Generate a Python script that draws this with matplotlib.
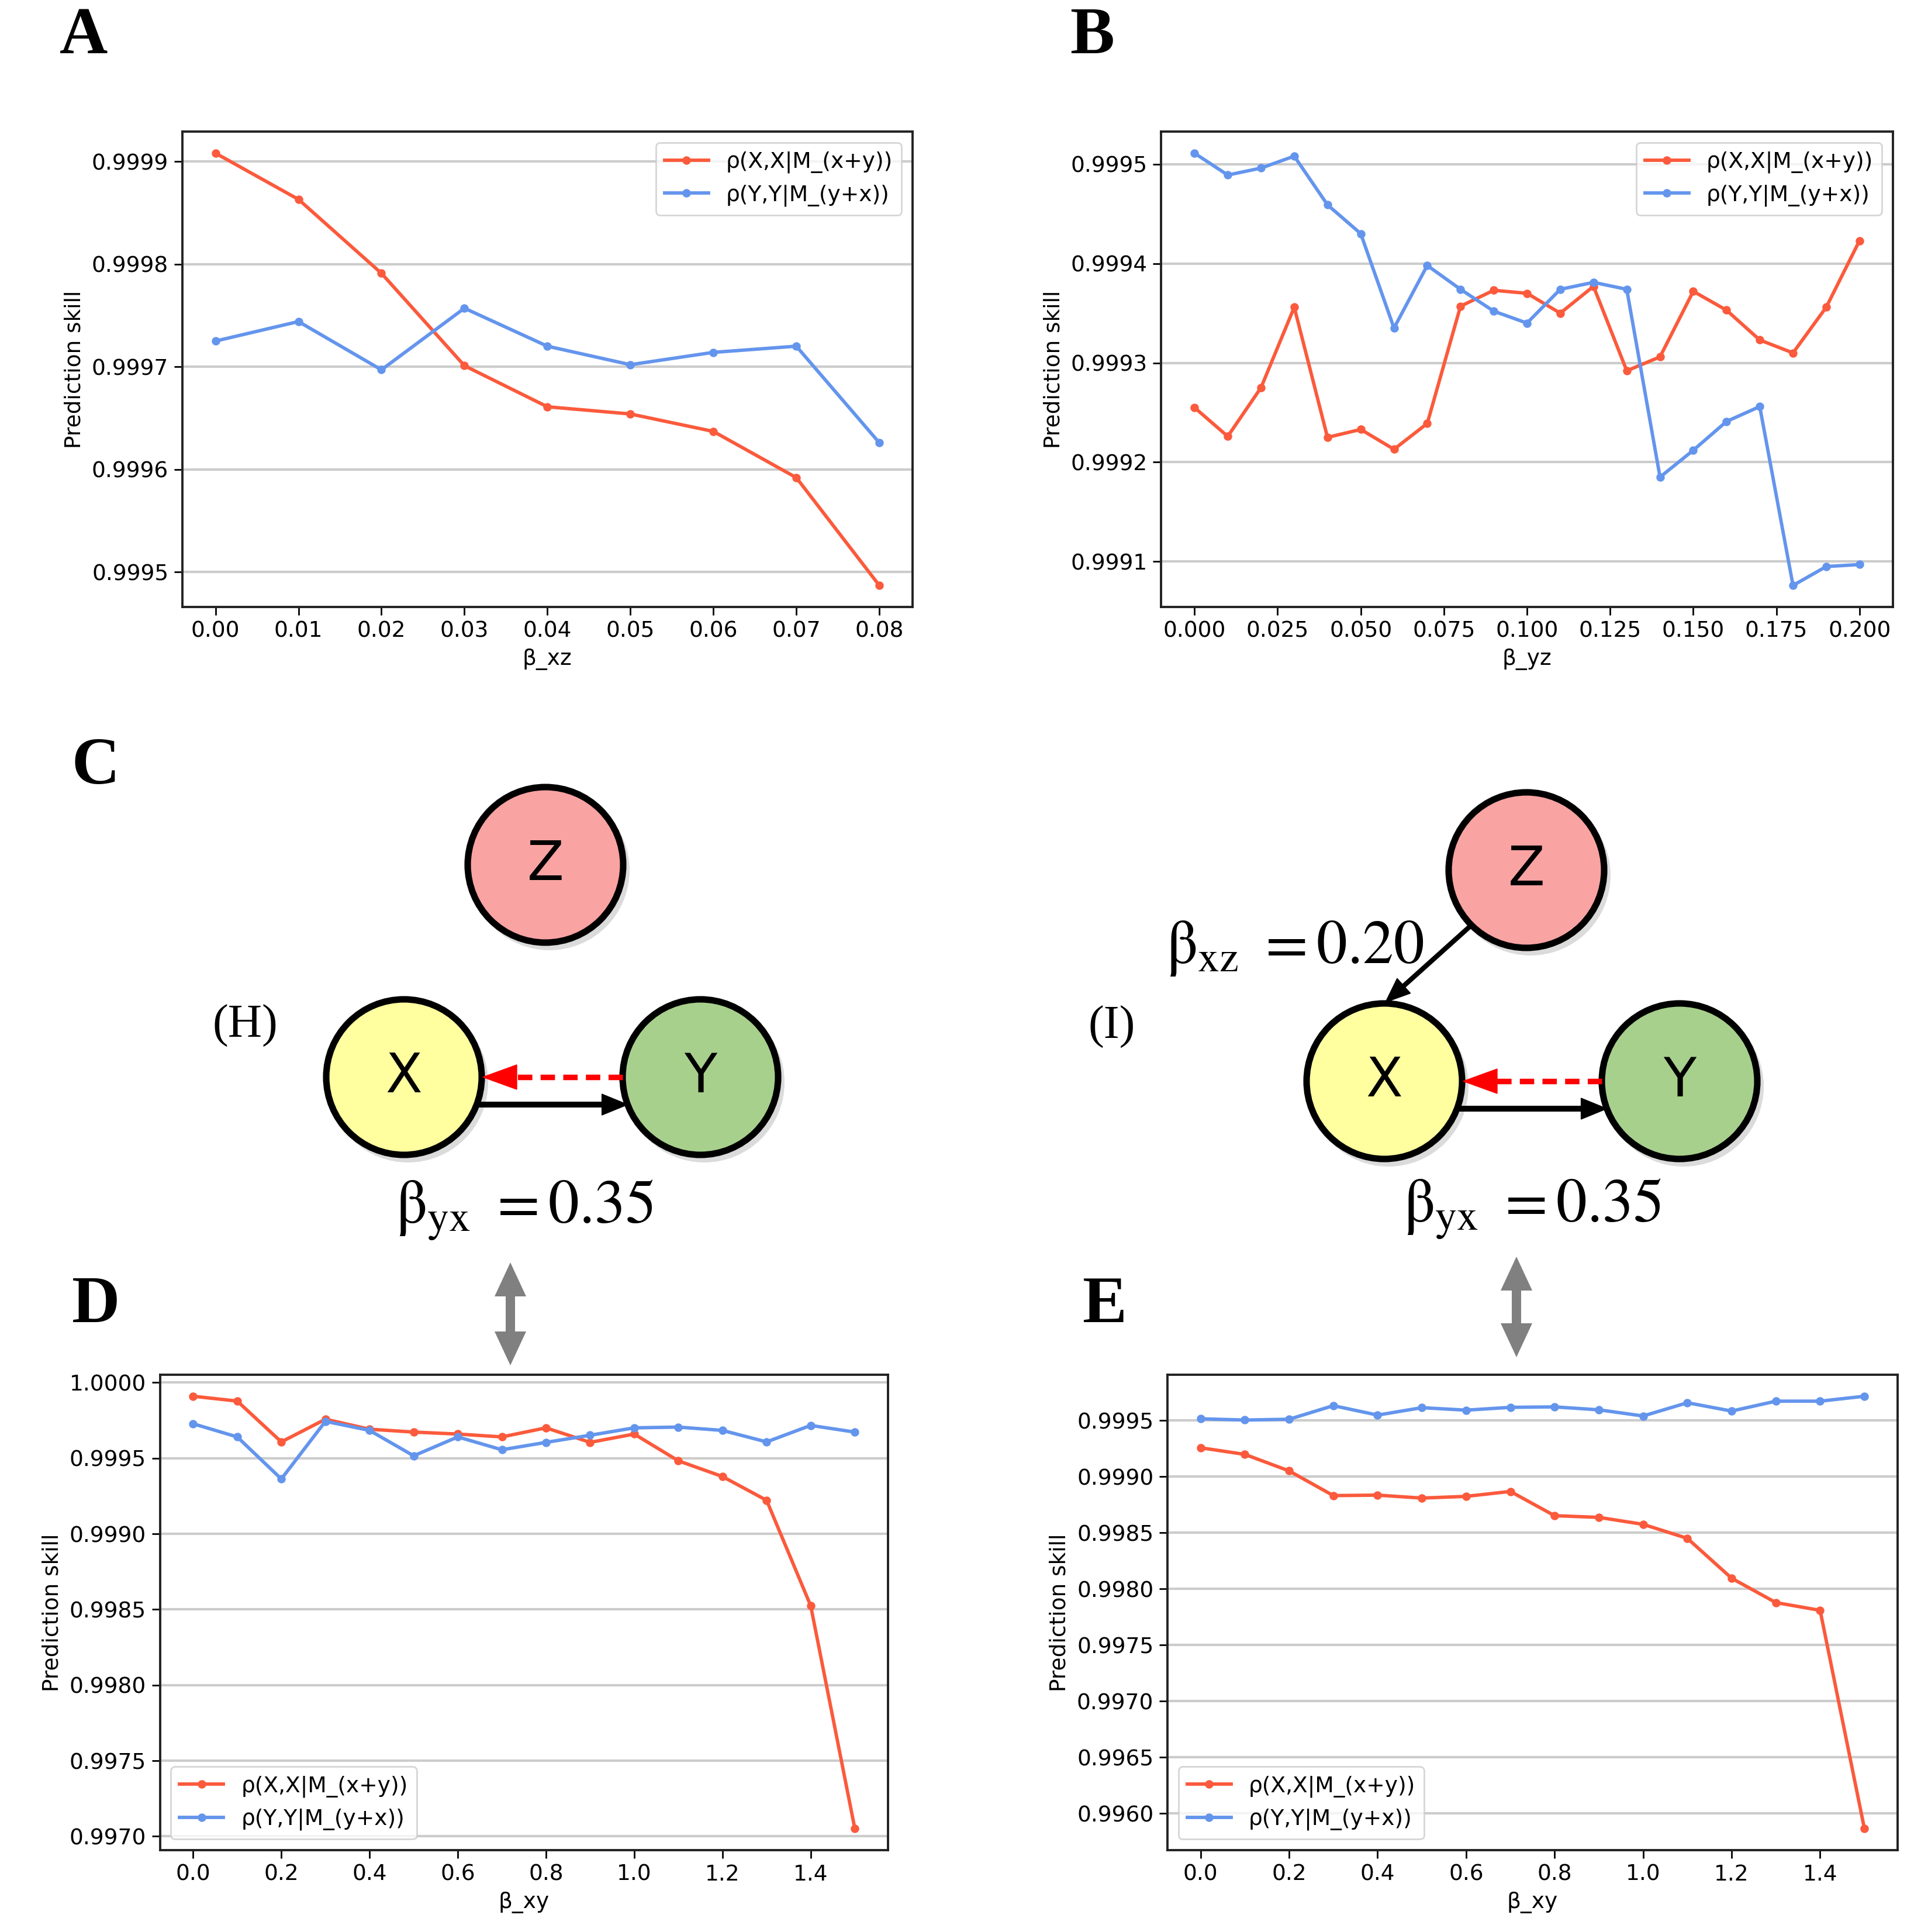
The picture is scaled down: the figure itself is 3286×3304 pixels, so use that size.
import matplotlib
matplotlib.use('Agg')
import matplotlib.pyplot as plt
from matplotlib.patches import Circle, Polygon
from matplotlib.ticker import MultipleLocator
import numpy as np

# ---------------- data ----------------
beta_xz = [0.00, 0.01, 0.02, 0.03, 0.04, 0.05, 0.06, 0.07, 0.08]
a_red = [0.999908, 0.999863, 0.999791, 0.999701, 0.999661, 0.999654, 0.999637, 0.999592, 0.999487]
a_blue = [0.999725, 0.999744, 0.999697, 0.999757, 0.999720, 0.999702, 0.999714, 0.999720, 0.999626]

beta_yz = [0.00, 0.01, 0.02, 0.03, 0.04, 0.05, 0.06, 0.07, 0.08, 0.09, 0.10,
           0.11, 0.12, 0.13, 0.14, 0.15, 0.16, 0.17, 0.18, 0.19, 0.20]
b_red = [0.999255, 0.999226, 0.999275, 0.999356, 0.999225, 0.999233, 0.999213,
         0.999239, 0.999357, 0.999373, 0.999370, 0.999350, 0.999377, 0.999292,
         0.999306, 0.999372, 0.999353, 0.999323, 0.999310, 0.999356, 0.999423]
b_blue = [0.999511, 0.999489, 0.999496, 0.999508, 0.999459, 0.999430, 0.999335,
          0.999398, 0.999374, 0.999352, 0.999340, 0.999374, 0.999381, 0.999374,
          0.999185, 0.999212, 0.999241, 0.999256, 0.999076, 0.999095, 0.999097]

beta_xy = [0.0, 0.1, 0.2, 0.3, 0.4, 0.5, 0.6, 0.7, 0.8, 0.9, 1.0, 1.1, 1.2, 1.3, 1.4, 1.5]
d_red = [0.999910, 0.999878, 0.999608, 0.999758, 0.999692, 0.999673, 0.999660, 0.999641,
         0.999701, 0.999605, 0.999660, 0.999483, 0.999379, 0.999222, 0.998525, 0.997052]
d_blue = [0.999728, 0.999641, 0.999363, 0.999744, 0.999684, 0.999516, 0.999641, 0.999556,
          0.999605, 0.999652, 0.999701, 0.999706, 0.999684, 0.999608, 0.999717, 0.999673]

e_red = [0.999257, 0.999198, 0.999051, 0.998831, 0.998835, 0.998809, 0.998824, 0.998868,
         0.998652, 0.998637, 0.998575, 0.998450, 0.998095, 0.997878, 0.997809, 0.995866]
e_blue = [0.999515, 0.999504, 0.999511, 0.999632, 0.999548, 0.999614, 0.999592, 0.999617,
          0.999621, 0.999595, 0.999540, 0.999658, 0.999584, 0.999672, 0.999672, 0.999716]

label_x = 'ρ(X,X|M_(x+y))'
label_y = 'ρ(Y,Y|M_(y+x))'

RED = '#FB5A3C'
BLUE = '#6495ED'

plt.rcParams['font.family'] = ['DejaVu Sans']
plt.rcParams['mathtext.fontset'] = 'stix'

fig = plt.figure(figsize=(16.43, 16.52), dpi=200)

# ---------------- overlay (diagram) ----------------
ov = fig.add_axes([0, 0, 1, 1])
ov.set_xlim(0, 3286)
ov.set_ylim(3304, 0)
ov.axis('off')
ov.patch.set_alpha(0)

serif = 'Liberation Serif'
for lab, (x, y) in {'A': (143, 63), 'B': (1868, 63), 'C': (164, 1312),
                    'D': (164, 2233), 'E': (1889, 2233)}.items():
    ov.text(x, y, lab, fontsize=41, fontweight='bold', family=serif,
            ha='center', va='center')

R = 133


def node(x, y, fc, name):
    ov.add_patch(Circle((x + 7, y + 9), R + 4, facecolor='#9a9a9a', alpha=0.35,
                        edgecolor='none', zorder=1))
    ov.add_patch(Circle((x, y), R, facecolor=fc, edgecolor='black', lw=4.0, zorder=2))
    ov.text(x, y, name, fontsize=33, ha='center', va='center', zorder=3)


def arrow(x0, y0, x1, y1, color, lw, hl, hw, dashed=False):
    d = np.array([x1 - x0, y1 - y0], float)
    L = np.hypot(*d)
    u = d / L
    n = np.array([-u[1], u[0]])
    base = np.array([x1, y1]) - u * hl
    ls = (0, (2.6, 1.5)) if dashed else '-'
    ov.plot([x0, base[0] + u[0] * 4], [y0, base[1] + u[1] * 4], color=color, lw=lw, ls=ls,
            solid_capstyle='butt', dash_capstyle='butt', zorder=4)
    tip = np.array([x1, y1])
    pts = [tip, base + n * hw / 2, base - n * hw / 2]
    ov.add_patch(Polygon(pts, closed=True, facecolor=color, edgecolor=color, lw=0.5, zorder=4))


def double_arrow(x, y0, y1):
    sw, hw, hl = 16, 54, 58
    pts = [(x, y0), (x + hw / 2, y0 + hl), (x + sw / 2, y0 + hl), (x + sw / 2, y1 - hl),
           (x + hw / 2, y1 - hl), (x, y1), (x - hw / 2, y1 - hl), (x - sw / 2, y1 - hl),
           (x - sw / 2, y0 + hl), (x - hw / 2, y0 + hl)]
    ov.add_patch(Polygon(pts, closed=True, facecolor='#808080', edgecolor='none', zorder=2))


def beta_label(x, y, sub, value):
    ov.text(x, y, r'$\mathrm{β}_{\mathrm{' + sub + r'}}\ =' + value + '$',
            fontsize=38, ha='center', va='baseline')


off = 47
ex = np.sqrt(R ** 2 - off ** 2)

# left diagram (H)
zl, xl, yl = (933, 1479), (691, 1842), (1198, 1842)
node(*zl, '#F9A3A3', 'Z')
node(*xl, '#FFFFA0', 'X')
node(*yl, '#A8D08D', 'Y')
arrow(yl[0] - R, xl[1], xl[0] + R + 2, xl[1], 'red', 3.4, 58, 42, dashed=True)
arrow(xl[0] + ex, xl[1] + off, yl[0] - ex, yl[1] + off, 'black', 3.6, 44, 36)
ov.text(419, 1754, '(H)', fontsize=29, family=serif, ha='center', va='center')
beta_label(897, 2091, 'yx', '0.35')
double_arrow(873, 2159, 2335)

# right diagram (I)
zr, xr, yr = (2611, 1488), (2368, 1849), (2873, 1849)
node(*zr, '#F9A3A3', 'Z')
node(*xr, '#FFFFA0', 'X')
node(*yr, '#A8D08D', 'Y')
arrow(yr[0] - R, xr[1], xr[0] + R + 2, xr[1], 'red', 3.4, 58, 42, dashed=True)
arrow(xr[0] + ex, xr[1] + off, yr[0] - ex, yr[1] + off, 'black', 3.6, 44, 36)
arrow(zr[0] - R * 0.7071, zr[1] + R * 0.7071, xr[0] + 2, xr[1] - R - 2, 'black', 3.0, 42, 34)
ov.text(1902, 1756, '(I)', fontsize=29, family=serif, ha='center', va='center')
beta_label(2215, 1647, 'xz', '0.20')
beta_label(2621, 2089, 'yx', '0.35')
double_arrow(2594, 2149, 2321)


# ---------------- charts ----------------
def chart(rect, x, red, blue, xlabel, ystep, xstep, xfmt, legloc):
    ax = fig.add_axes(rect)
    ax.plot(x, red, color=RED, lw=2.1, marker='o', ms=4.2, label=label_x, zorder=3)
    ax.plot(x, blue, color=BLUE, lw=2.1, marker='o', ms=4.2, label=label_y, zorder=3)
    ax.yaxis.set_major_locator(MultipleLocator(ystep))
    ax.xaxis.set_major_locator(MultipleLocator(xstep))
    ax.yaxis.set_major_formatter(plt.FuncFormatter(lambda v, p: '{:.4f}'.format(v)))
    ax.xaxis.set_major_formatter(plt.FuncFormatter(lambda v, p: xfmt.format(v)))
    ax.grid(axis='y', color='#cccccc', lw=1.5)
    ax.set_axisbelow(True)
    ax.tick_params(labelsize=13.5, width=1.0, length=5)
    ax.set_xlabel(xlabel, fontsize=13.5)
    ax.set_ylabel('Prediction skill', fontsize=13.5)
    for s in ax.spines.values():
        s.set_linewidth(1.4)
        s.set_color('#222222')
    ax.legend(loc=legloc, fontsize=13.5)
    return ax


chart([0.0949, 0.6858, 0.3801, 0.2461], beta_xz, a_red, a_blue, 'β_xz',
      0.0001, 0.01, '{:.2f}', 'upper right')
chart([0.6045, 0.6858, 0.3808, 0.2461], beta_yz, b_red, b_blue, 'β_yz',
      0.0001, 0.025, '{:.3f}', 'upper right')
chart([0.0833, 0.0424, 0.3789, 0.2461], beta_xy, d_red, d_blue, 'β_xy',
      0.0005, 0.2, '{:.1f}', 'lower left')
chart([0.6077, 0.0424, 0.3801, 0.2461], beta_xy, e_red, e_blue, 'β_xy',
      0.0005, 0.2, '{:.1f}', 'lower left')

fig.savefig('out.png', dpi=200)
